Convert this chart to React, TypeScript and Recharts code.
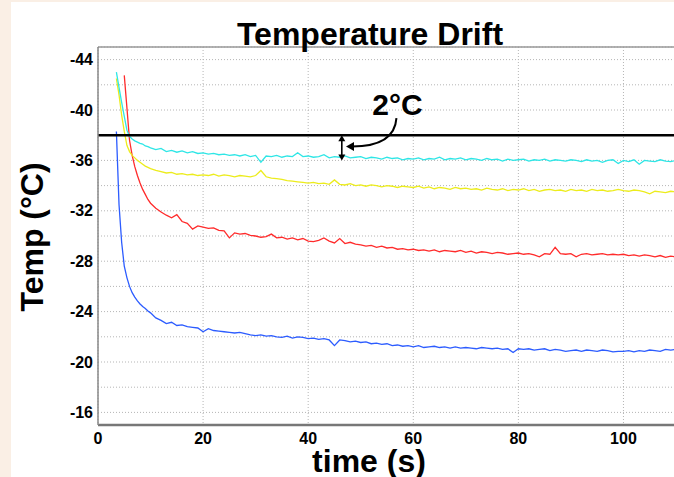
import * as React from "react";
import {
  LineChart,
  Line,
  XAxis,
  YAxis,
  CartesianGrid,
  ReferenceLine,
} from "recharts";

// time (s)
const time = [
  3.5, 4, 4.5, 5, 5.5, 6, 6.5, 7, 7.5, 8, 8.5, 9, 9.5,
  10, 11, 12, 13, 14, 15, 16, 17, 18, 19,
  20, 21, 22, 23, 24, 25, 26, 27, 28, 29,
  30, 31, 32, 33, 34, 35, 36, 37, 38, 39,
  40, 41, 42, 43, 44, 45, 46, 47, 48, 49,
  50, 51, 52, 53, 54, 55, 56, 57, 58, 59,
  60, 61, 62, 63, 64, 65, 66, 67, 68, 69,
  70, 71, 72, 73, 74, 75, 76, 77, 78, 79,
  80, 81, 82, 83, 84, 85, 86, 87, 88, 89,
  90, 91, 92, 93, 94, 95, 96, 97, 98, 99,
  100, 101, 102, 103, 104, 105, 106, 107, 108, 109, 110,
];

const cyanTemp = [
  -43.0, -41.8, -40.6, -39.5, -38.4, -37.9, -37.7, -37.55, -37.45, -37.35, -37.3, -37.15, -37.1,
  -37.0, -36.85, -36.95, -36.7, -36.8, -36.65, -36.75, -36.6, -36.7, -36.55,
  -36.6, -36.5, -36.55, -36.45, -36.5, -36.4, -36.45, -36.35, -36.45, -36.3,
  -36.4, -35.85, -36.35, -36.3, -36.4, -36.25, -36.35, -36.3, -36.6, -36.3,
  -36.35, -36.25, -36.3, -36.45, -36.2, -36.3, -36.25, -36.35, -36.2, -36.25,
  -36.3, -36.15, -36.25, -36.2, -36.1, -36.25, -36.15, -36.2, -36.05, -36.15,
  -36.1, -36.2, -36.05, -36.15, -36.1, -36.25, -36.05, -36.15, -36.1, -36.2,
  -36.05, -36.15, -36.1, -36.0, -36.15, -36.05, -36.1, -35.95, -36.1, -36.0,
  -36.05, -36.1, -35.95, -36.05, -36.0, -36.1, -35.95, -36.05, -36.0, -35.95,
  -36.05, -36.0, -35.9, -36.05, -35.95, -36.0, -35.85, -36.0, -36.05, -35.75,
  -36.0, -35.9, -36.05, -35.7, -36.0, -35.95, -35.9, -36.05, -35.95, -35.9, -36.0,
];

const yellowTemp = [
  -42.5, -41.2, -39.6, -38.3, -37.2, -36.7, -36.4, -36.2, -36.0, -35.85, -35.7, -35.55, -35.45,
  -35.35, -35.2, -35.1, -35.0, -35.05, -34.9, -34.95, -34.85, -34.9, -34.8,
  -34.85, -34.8, -34.9, -34.75, -34.85, -34.8, -34.7, -34.8, -34.75, -34.7,
  -34.8, -35.2, -34.7, -34.6, -34.55, -34.5, -34.4, -34.35, -34.3, -34.25,
  -34.2, -34.25, -34.15, -34.2, -34.1, -34.45, -34.1, -34.05, -34.15, -34.0,
  -34.05, -33.95, -34.05, -34.0, -33.9, -34.0, -33.95, -33.85, -33.95, -33.9,
  -33.85, -33.95, -33.8, -33.9, -33.75, -33.85, -33.8, -33.7, -33.85, -33.75,
  -33.8, -33.7, -33.75, -33.65, -33.8, -33.7, -33.65, -33.75, -33.6, -33.7,
  -33.65, -33.75, -33.6, -33.7, -33.55, -33.65, -33.7, -33.6, -33.65, -33.55,
  -33.7, -33.6, -33.65, -33.55, -33.7, -33.6, -33.65, -33.55, -33.6, -33.7,
  -33.6, -33.55, -33.65, -33.6, -33.5, -33.35, -33.55, -33.5, -33.45, -33.55, -33.5,
];

const redTemp = [
  null, null, null, -42.75, -40.2, -37.6, -36.4, -35.5, -34.8, -34.2, -33.7, -33.3, -32.9,
  -32.6, -32.2, -31.9, -31.65, -31.45, -31.7, -31.15, -31.0, -30.55, -30.8,
  -30.7, -30.6, -30.65, -30.45, -30.4, -29.85, -30.25, -30.15, -30.2, -30.05,
  -30.0, -29.9, -29.95, -30.15, -29.85, -29.9, -29.75, -29.85, -29.7, -29.8,
  -29.6, -29.55, -29.65, -29.85, -29.6, -29.45, -29.8, -29.4, -29.5, -29.35,
  -29.3, -29.2, -29.25, -29.1, -29.2, -29.05, -29.1, -28.95, -29.0, -28.9,
  -28.95, -28.85, -28.9, -28.8, -28.9, -28.75, -28.85, -28.8, -28.75, -28.85,
  -28.7, -28.8, -28.65, -28.75, -28.7, -28.6, -28.7, -28.65, -28.55, -28.6,
  -28.65, -28.55, -28.6, -28.5, -28.35, -28.6, -28.55, -29.1, -28.6, -28.55,
  -28.6, -28.35, -28.55, -28.6, -28.5, -28.55, -28.6, -28.5, -28.55, -28.5,
  -28.55, -28.45, -28.5, -28.4, -28.5, -28.45, -28.35, -28.45, -28.3, -28.4, -28.35,
];

const blueTemp = [
  -38.3, -32.5, -29.5, -27.6, -26.7, -26.0, -25.5, -25.15, -24.85, -24.6, -24.4, -24.25, -24.05,
  -23.9, -23.5, -23.3, -23.05, -23.15, -22.9, -22.95, -22.8, -22.75, -22.7,
  -22.4, -22.65, -22.5, -22.45, -22.4, -22.35, -22.3, -22.35, -22.25, -22.15,
  -22.1, -22.15, -22.05, -22.1, -22.0, -21.95, -22.05, -21.9, -22.0, -21.95,
  -21.85, -21.9, -21.8, -21.85, -21.75, -21.3, -21.75, -21.7, -21.6, -21.65,
  -21.55, -21.6, -21.45, -21.5, -21.4, -21.45, -21.3, -21.35, -21.25, -21.3,
  -21.2, -21.3, -21.15, -21.2, -21.25, -21.15, -21.2, -21.1, -21.2, -21.1,
  -21.15, -21.1, -21.05, -21.15, -21.1, -21.05, -21.1, -21.0, -21.05, -20.75,
  -21.05, -21.0, -21.05, -20.95, -21.0, -21.05, -20.9, -21.0, -20.95, -20.85,
  -20.9, -20.95, -20.85, -20.95, -20.9, -20.85, -20.95, -20.9, -20.8, -20.85,
  -20.85, -20.9, -20.8, -20.9, -20.85, -20.95, -20.9, -20.85, -21.0, -20.95, -21.0,
];

const xTicks = [0, 20, 40, 60, 80, 100];
const yTicks = [-44, -42, -40, -38, -36, -34, -32, -30, -28, -26, -24, -22, -20, -18, -16];

const limitTemp = -38;
// the 2°C gap marker between the limit line and the cyan trace
const gapArrow = [{ x: 46.4, y: -38 }, { x: 46.4, y: -36.0 }];
const calloutArrow = [{ x: 56.8, y: -39.35 }, { x: 47.2, y: -37.1 }];

const data = time.map((t, i) => ({
  t,
  cyan: cyanTemp[i],
  yellow: yellowTemp[i],
  red: redTemp[i],
  blue: blueTemp[i],
}));

const FONT = "'Liberation Sans', Arial, sans-serif";

const DoubleArrow = (props: any) => {
  const { x1, y1, x2, y2 } = props;
  return (
    <g>
      <line x1={x1} y1={y1 + 4} x2={x2} y2={y2 - 4} stroke="#000" strokeWidth={1.6} />
      <path d={`M${x1},${y1} L${x1 - 3.5},${y1 + 6} L${x1 + 3.5},${y1 + 6} Z`} fill="#000" />
      <path d={`M${x2},${y2} L${x2 - 3.5},${y2 - 6} L${x2 + 3.5},${y2 - 6} Z`} fill="#000" />
    </g>
  );
};

const Callout = (props: any) => {
  const { x1, y1, x2, y2 } = props;
  return (
    <g>
      <path
        d={`M${x1},${y1} Q${x1 - 2},${y2} ${x2 + 6},${y2}`}
        fill="none"
        stroke="#000"
        strokeWidth={2}
      />
      <path d={`M${x2},${y2} L${x2 + 8},${y2 - 4.5} L${x2 + 8},${y2 + 4.5} Z`} fill="#000" />
      <text
        x={x1 + 1}
        y={y1 - 3}
        textAnchor="middle"
        fontFamily={FONT}
        fontWeight="bold"
        fontSize={30}
        fill="#000"
      >
        2°C
      </text>
    </g>
  );
};

const tickStyle = { fontFamily: FONT, fontWeight: "bold", fontSize: 16, fill: "#000" };

const labelStyle: React.CSSProperties = {
  position: "absolute",
  whiteSpace: "nowrap",
  fontFamily: FONT,
  fontWeight: "bold",
  fontSize: 32,
  color: "#000",
};

export default function App() {
  return (
    <div
      style={{
        position: "absolute",
        left: 0,
        top: 0,
        width: 674,
        height: 477,
        overflow: "hidden",
        background: "#fff",
      }}
    >
      <div style={{ position: "absolute", left: 0, top: 0 }}>
        <LineChart
          width={676}
          height={477}
          data={data}
          margin={{ top: 47, right: 0, bottom: 22, left: 38 }}
        >
          <CartesianGrid stroke="#b5b5b5" strokeDasharray="1 2" />
          <XAxis
            dataKey="t"
            type="number"
            domain={[0, 110]}
            ticks={xTicks}
            allowDataOverflow
            height={30}
            tickSize={0}
            tickMargin={8}
            tick={tickStyle}
            axisLine={{ stroke: "#777", strokeWidth: 2.5 }}
          />
          <YAxis
            type="number"
            domain={[-45, -15]}
            reversed
            ticks={yTicks}
            allowDataOverflow
            width={60}
            tickSize={0}
            tickMargin={5}
            tick={tickStyle}
            tickFormatter={(v: number) => (v % 4 === 0 ? String(v) : "")}
            axisLine={{ stroke: "#888", strokeWidth: 1.5 }}
          />
          <YAxis
            yAxisId="inner"
            type="number"
            domain={[-45, -15]}
            reversed
            ticks={yTicks}
            mirror
            width={0}
            tickSize={5}
            tick={{ fontSize: 1 }}
            tickFormatter={() => ""}
            tickLine={{ stroke: "#555", strokeWidth: 1.5 }}
            axisLine={false}
          />
          <ReferenceLine y={-45} stroke="#999" strokeWidth={1.5} />
          <Line type="linear" dataKey="blue" stroke="#2c5cff" strokeWidth={1.3} dot={false} isAnimationActive={false} />
          <Line type="linear" dataKey="red" stroke="#ff2b2b" strokeWidth={1.3} dot={false} isAnimationActive={false} />
          <Line type="linear" dataKey="yellow" stroke="#ecec1c" strokeWidth={1.3} dot={false} isAnimationActive={false} />
          <Line type="linear" dataKey="cyan" stroke="#2ee6e6" strokeWidth={1.3} dot={false} isAnimationActive={false} />
          <ReferenceLine y={limitTemp} stroke="#000" strokeWidth={2.5} />
          <ReferenceLine segment={gapArrow} shape={DoubleArrow} />
          <ReferenceLine segment={calloutArrow} shape={Callout} />
        </LineChart>
      </div>
      <div style={{ position: "absolute", left: 0, top: 0, width: 11, height: 477, background: "#faefe5" }} />
      <div style={{ position: "absolute", left: 0, top: 0, width: 674, height: 2, background: "#faefe5" }} />
      <div style={{ ...labelStyle, left: 370, top: 18, lineHeight: "32px", transform: "translateX(-50%)" }}>
        Temperature Drift
      </div>
      <div style={{ ...labelStyle, left: 369, top: 448, lineHeight: "26px", transform: "translateX(-50%)" }}>
        time (s)
      </div>
      <div
        style={{
          ...labelStyle,
          left: 32,
          top: 237,
          lineHeight: "32px",
          transform: "translate(-50%, -50%) rotate(-90deg)",
        }}
      >
        Temp (°C)
      </div>
    </div>
  );
}
